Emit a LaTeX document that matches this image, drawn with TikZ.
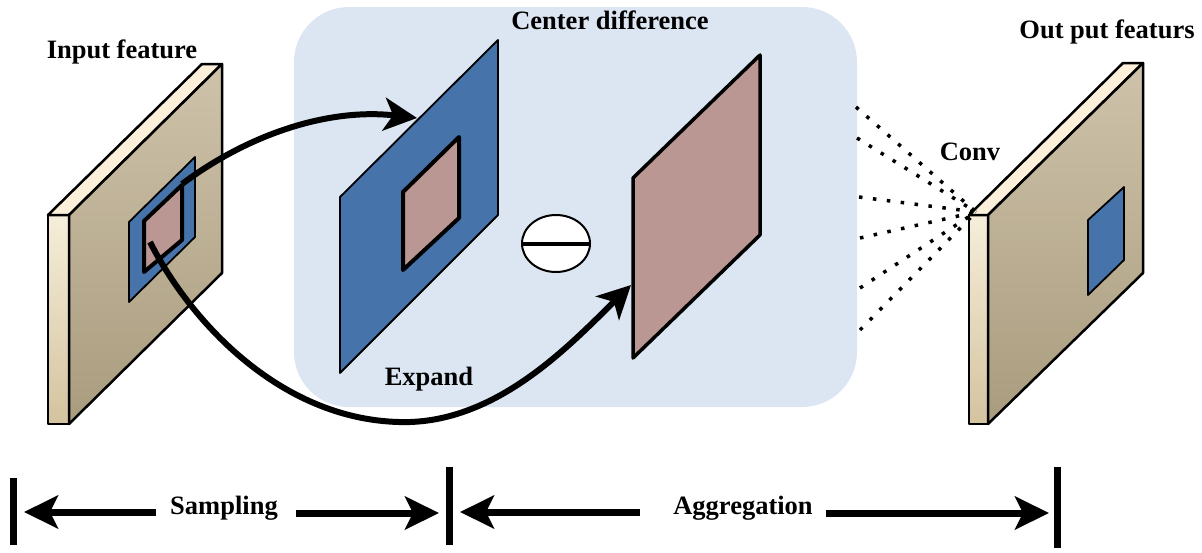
\documentclass[tikz,border=0pt]{standalone}
\usepackage{fontspec}
\setmainfont{Liberation Serif}
\usetikzlibrary{arrows.meta,shapes.geometric}
\definecolor{panelbg}{HTML}{DCE6F2}
\definecolor{featblue}{HTML}{4573AA}
\definecolor{featpink}{HTML}{BB9794}
\definecolor{facetop}{HTML}{CEC2AA}
\definecolor{facebot}{HTML}{A99C7E}
\definecolor{striptop}{HTML}{F6EEDA}
\definecolor{stripbot}{HTML}{D3C39F}
\definecolor{lidcol}{HTML}{FCF0DA}
\tikzset{
  lbl/.style={font=\fontsize{26.5}{30}\selectfont\bfseries, inner sep=0pt},
  face/.style={draw=black, line width=2.5pt, line join=round, top color=facetop, bottom color=facebot},
  strip/.style={draw=black, line width=2.5pt, line join=round, top color=striptop, bottom color=stripbot},
  lid/.style={draw=black, line width=2.5pt, line join=round, fill=lidcol},
  bluepatch/.style={draw=black, line width=1.8pt, line join=round, fill=featblue},
  pinkpatch/.style={draw=black, line width=4pt, line join=round, fill=featpink},
  bigarrow/.style={line width=6pt, -{Stealth[length=33pt,width=33pt,inset=9pt]}},
  dimarrow/.style={line width=7pt, -{Stealth[length=34pt,width=33pt,inset=8pt]}},
  bar/.style={line width=7pt},
  dotline/.style={line width=3.5pt, dash pattern=on 3.5pt off 10.5pt},
}
\begin{document}
\begin{tikzpicture}[x=1pt,y=-1pt]
\useasboundingbox (0,0) rectangle (1202,552);

% centre panel
\fill[panelbg, rounded corners=55pt] (294,7) rectangle (857,407);

% ---------- input feature block ----------
\path[strip] (48,215) -- (69,215) -- (69,424) -- (48,424) -- cycle;
\path[lid] (48,215) -- (202,64) -- (222,64) -- (69,215) -- cycle;
\path[face] (69,215) -- (222,64) -- (222,273) -- (69,424) -- cycle;
\path[bluepatch] (129,222) -- (195,157) -- (195,237) -- (129,302) -- cycle;
\path[pinkpatch] (144,221) -- (182,185) -- (182,240) -- (144,272) -- cycle;
\coordinate (inUp) at (182,184);
\coordinate (inLow) at (150,242);

% ---------- expand panel ----------
\path[bluepatch] (340,197) -- (498,40) -- (498,215) -- (340,373) -- cycle;
\path[pinkpatch] (403,192) -- (459,137) -- (459,218) -- (403,270) -- cycle;
\coordinate (expTip) at (417,118);

% minus circle
\node[draw=black, line width=2pt, fill=white, ellipse, minimum width=68pt, minimum height=57pt, inner sep=0pt] (minus) at (556,243.5) {};
\draw[line width=4pt] (minus.west) -- (minus.east);

% ---------- centre pink panel ----------
\path[pinkpatch, line width=3.5pt] (633,178) -- (760,55) -- (760,235) -- (633,358) -- cycle;
\coordinate (cenTip) at (631,285);

% ---------- output block ----------
\path[strip] (969,215) -- (988,215) -- (988,424) -- (969,424) -- cycle;
\path[lid] (969,215) -- (1123,63) -- (1143,63) -- (988,215) -- cycle;
\path[face] (988,215) -- (1143,63) -- (1143,273) -- (988,424) -- cycle;
\path[bluepatch] (1088,220) -- (1124,187) -- (1124,260) -- (1088,295) -- cycle;

% ---------- dotted conv lines ----------
\coordinate (conv) at (976,212);
\coordinate (d1) at (856,107);
\coordinate (d2) at (857,138);
\coordinate (d3) at (859,197);
\coordinate (d4) at (860,238);
\coordinate (d5) at (860,288);
\coordinate (d6) at (860,330);
\foreach \d in {d1,d2,d3,d4,d5,d6}
  \draw[dotline] (\d) -- (conv);

% ---------- curved arrows ----------
\draw[bigarrow] (inUp) .. controls (250,133) and (330,108) .. (expTip);
\draw[bigarrow] (inLow) .. controls (195,330) and (290,425) .. (410,422)
   .. controls (500,419) and (570,345) .. (cenTip);

% ---------- labels ----------
\node[lbl] (linput) at (122,52) {Input feature};
\node[lbl] (lcenter) at (610,20) {Center difference};
\node[lbl] (lout) at (1107,32) {Out put featurs};
\node[lbl] (lconv) at (970,152) {Conv};
\node[lbl] (lexpand) at (429,379) {Expand};

% ---------- bottom scale ----------
\coordinate (b1t) at (13,478); \coordinate (b1b) at (13,545);
\coordinate (b2t) at (449,467); \coordinate (b2b) at (449,545);
\coordinate (b3t) at (1057,467); \coordinate (b3b) at (1057,548);
\draw[bar] (b1t) -- (b1b);
\draw[bar] (b2t) -- (b2b);
\draw[bar] (b3t) -- (b3b);

\node[lbl] (lsamp) at (224,508) {Sampling};
\node[lbl] (lagg) at (743,508) {Aggregation};
\coordinate (s1) at (156,512); \coordinate (s1t) at (24,512);
\coordinate (s2) at (296,513); \coordinate (s2t) at (439,513);
\coordinate (a1) at (640,512); \coordinate (a1t) at (460,512);
\coordinate (a2) at (826,513); \coordinate (a2t) at (1049,513);
\draw[dimarrow] (s1) -- (s1t);
\draw[dimarrow] (s2) -- (s2t);
\draw[dimarrow] (a1) -- (a1t);
\draw[dimarrow] (a2) -- (a2t);
\end{tikzpicture}
\end{document}
